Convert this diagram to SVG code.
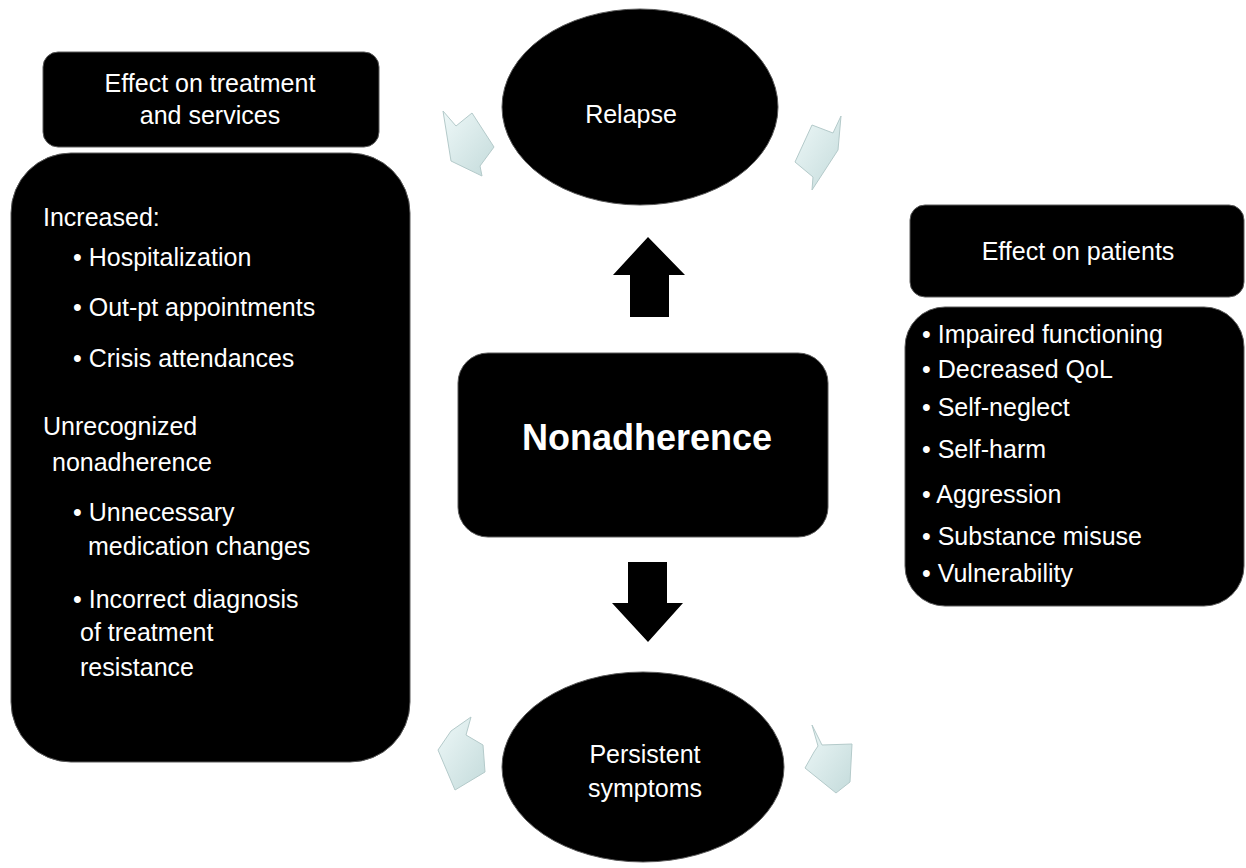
<svg xmlns="http://www.w3.org/2000/svg" width="1246" height="868" viewBox="0 0 1246 868">
<style>
.blk{fill:#000;stroke:#5a5a5a;stroke-width:1}
.t{fill:#fff;font-family:"Liberation Sans",Arial,sans-serif;font-size:25px}
.c{text-anchor:middle}
.b{font-weight:bold;font-size:36px}
.la{fill:url(#lg);stroke:#b4caca;stroke-width:1;stroke-linejoin:round}
</style>
<defs>
<linearGradient id="lg" x1="0" y1="0" x2="1" y2="1">
<stop offset="0" stop-color="#eef8f8"/>
<stop offset="1" stop-color="#c4dbdb"/>
</linearGradient>
</defs>
<rect width="1246" height="868" fill="#fff"/>
<g id="connectors">
<polygon points="648,237 685,275 669,275 669,317 630,317 630,275 613,275" fill="#000"/>
<polygon points="628,562 667,562 667,603 683,603 648,642 612,603 628,603" fill="#000"/>
<polygon class="la" points="443,111 456,126 472,113 494,147 480,166 482,176 451,161"/>
<polygon class="la" points="841,116 838,150 812,190 813,177 795,162 812,125 833,133"/>
<polygon class="la" points="471,717 466,735 483,745 485,772 455,790 438,750 451,731"/>
<polygon class="la" points="812,725 822,745 852,744 850,782 836,793 805,768 814,752 818,746"/>
</g>
<g id="relapse">
<ellipse class="blk" cx="640" cy="107" rx="138" ry="98"/>
<text class="t c" x="631" y="123">Relapse</text>
</g>
<g id="persistent">
<ellipse class="blk" cx="643" cy="767" rx="141" ry="95"/>
<text class="t c" x="645" y="763">Persistent</text>
<text class="t c" x="645" y="797">symptoms</text>
</g>
<g id="nonadherence">
<rect class="blk" x="458" y="353" width="370" height="184" rx="30"/>
<text class="t c b" x="647" y="450">Nonadherence</text>
</g>
<g id="treatment-header">
<rect class="blk" x="43" y="52" width="336" height="95" rx="15"/>
<text class="t c" x="210" y="92">Effect on treatment</text>
<text class="t c" x="210" y="124">and services</text>
</g>
<g id="treatment-list">
<rect class="blk" x="11" y="153" width="399" height="609" rx="60"/>
<text class="t" x="43" y="226">Increased:</text>
<text class="t" x="73" y="266">• Hospitalization</text>
<text class="t" x="73" y="316">• Out-pt appointments</text>
<text class="t" x="73" y="367">• Crisis attendances</text>
<text class="t" x="43" y="435">Unrecognized</text>
<text class="t" x="52" y="471">nonadherence</text>
<text class="t" x="73" y="521">• Unnecessary</text>
<text class="t" x="88" y="555">medication changes</text>
<text class="t" x="73" y="608">• Incorrect diagnosis</text>
<text class="t" x="80" y="641">of treatment</text>
<text class="t" x="80" y="676">resistance</text>
</g>
<g id="patients-header">
<rect class="blk" x="910" y="205" width="334" height="92" rx="15"/>
<text class="t c" x="1078" y="260">Effect on patients</text>
</g>
<g id="patients-list">
<rect class="blk" x="905" y="307" width="339" height="299" rx="40"/>
<text class="t" x="922" y="343">• Impaired functioning</text>
<text class="t" x="922" y="378">• Decreased QoL</text>
<text class="t" x="922" y="416">• Self-neglect</text>
<text class="t" x="922" y="458">• Self-harm</text>
<text class="t" x="922" y="503">• Aggression</text>
<text class="t" x="922" y="545">• Substance misuse</text>
<text class="t" x="922" y="582">• Vulnerability</text>
</g>
</svg>
